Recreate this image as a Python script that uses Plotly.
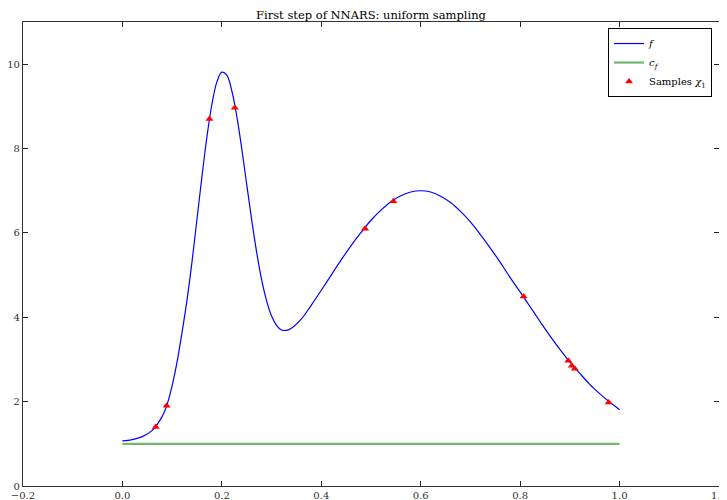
import plotly.graph_objects as go

# Curve f, values
x_f = [0.00, 0.02, 0.04, 0.06, 0.08, 0.09, 0.10, 0.11, 0.12, 0.13, 0.14, 0.15,
       0.16, 0.17, 0.18, 0.19, 0.20, 0.21, 0.22, 0.23, 0.24, 0.25, 0.26, 0.27,
       0.28, 0.29, 0.30, 0.31, 0.32, 0.33, 0.34, 0.36, 0.38, 0.40, 0.42, 0.44,
       0.46, 0.48, 0.50, 0.52, 0.54, 0.56, 0.58, 0.60, 0.62, 0.64, 0.66, 0.68,
       0.70, 0.72, 0.74, 0.76, 0.78, 0.80, 0.82, 0.84, 0.86, 0.88, 0.90, 0.92,
       0.94, 0.96, 0.98, 1.00]
y_f = [1.07, 1.10, 1.17, 1.32, 1.65, 1.94, 2.38, 2.95, 3.65, 4.42, 5.32, 6.33,
       7.34, 8.28, 9.05, 9.58, 9.81, 9.74, 9.37, 8.77, 8.00, 7.15, 6.31, 5.54,
       4.89, 4.39, 4.03, 3.81, 3.70, 3.69, 3.74, 3.96, 4.29, 4.64, 5.00, 5.36,
       5.70, 6.01, 6.30, 6.54, 6.74, 6.88, 6.97, 7.00, 6.97, 6.87, 6.72, 6.51,
       6.26, 5.96, 5.64, 5.30, 4.94, 4.60, 4.25, 3.90, 3.56, 3.24, 2.94, 2.67,
       2.41, 2.19, 1.99, 1.81]

# Constant c_f
x_c = [0.0, 1.0]
y_c = [1.0, 1.0]

# Samples chi_1
x_s = [0.067, 0.089, 0.175, 0.226, 0.488, 0.545, 0.807, 0.897, 0.904, 0.910, 0.978]
y_s = [1.40, 1.90, 8.70, 8.97, 6.10, 6.75, 4.49, 2.97, 2.85, 2.78, 1.98]

x_ticks = [-0.2, 0.0, 0.2, 0.4, 0.6, 0.8, 1.0, 1.2]
x_tick_text = ["\u22120.2", "0.0", "0.2", "0.4", "0.6", "0.8", "1.0", "1.2"]
y_ticks = [0, 2, 4, 6, 8, 10]

font_family = "DejaVu Serif"

fig = go.Figure()
fig.add_trace(go.Scatter(x=x_f, y=y_f, mode="lines", name="<i>f</i>",
                         line=dict(color="#0000ff", width=1.2, shape="spline", smoothing=1.0)))
fig.add_trace(go.Scatter(x=x_c, y=y_c, mode="lines", name="<i>c<sub>f</sub></i>",
                         line=dict(color="#72b872", width=2.2)))
fig.add_trace(go.Scatter(x=x_s, y=y_s, mode="markers", name="Samples <i>\u03c7</i><sub>1</sub>",
                         marker=dict(symbol="triangle-up", color="red", size=7)))

axis_common = dict(showline=True, linecolor="#333", linewidth=1.2, mirror="ticks",
                   ticks="inside", ticklen=5, tickcolor="#222", showgrid=False,
                   zeroline=False, automargin=False, ticklabeloverflow="allow",
                   tickfont=dict(size=10, color="#333", family=font_family))

# The page body adds an 8px offset, so the figure is sized to fill the rest of the window
fig.update_layout(
    width=719, height=492,
    margin=dict(l=15, r=8, t=14, b=14),
    paper_bgcolor="white", plot_bgcolor="white",
    title=dict(text="First step of NNARS: uniform sampling", x=0.5, xanchor="center",
               xref="paper", yref="container", y=0.985, yanchor="middle", automargin=False,
               font=dict(size=11.5, color="black", family=font_family)),
    font=dict(family=font_family, color="black"),
    xaxis=dict(range=[-0.2, 1.2], tickvals=x_ticks, ticktext=x_tick_text, **axis_common),
    yaxis=dict(range=[0, 11], tickvals=y_ticks, **axis_common),
    legend=dict(x=0.990, y=0.987, xanchor="right", yanchor="top",
                bordercolor="black", borderwidth=1, bgcolor="white", itemwidth=30,
                font=dict(size=10, family=font_family), tracegroupgap=0),
    showlegend=True,
)

fig.write_html("out.html")
